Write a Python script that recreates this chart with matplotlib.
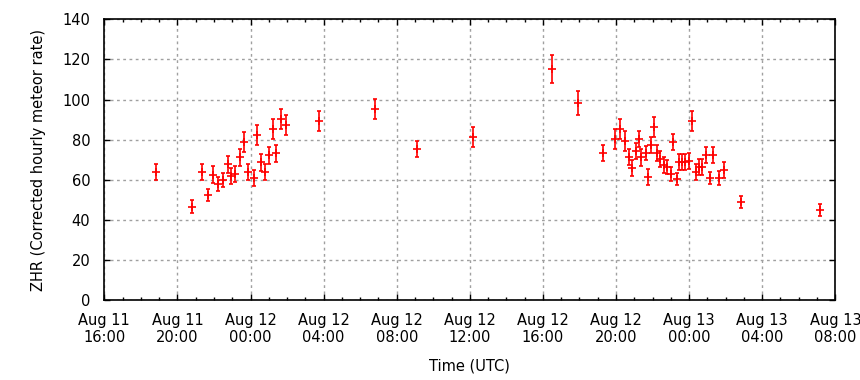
import numpy as np
import pandas as pd
import matplotlib
matplotlib.use('Agg')
import matplotlib.pyplot as plt
import matplotlib.dates as mdates

# ZHR measurements (UTC time, ZHR, error)
times = [
    '2016-08-11 18:50', '2016-08-11 20:49', '2016-08-11 21:21', '2016-08-11 21:41',
    '2016-08-11 21:58', '2016-08-11 22:14', '2016-08-11 22:31', '2016-08-11 22:47',
    '2016-08-11 22:57', '2016-08-11 23:09', '2016-08-11 23:26', '2016-08-11 23:40',
    '2016-08-11 23:53', '2016-08-12 00:10', '2016-08-12 00:22', '2016-08-12 00:35',
    '2016-08-12 00:49', '2016-08-12 01:02', '2016-08-12 01:15', '2016-08-12 01:25',
    '2016-08-12 01:41', '2016-08-12 01:58', '2016-08-12 03:44', '2016-08-12 06:50',
    '2016-08-12 09:05', '2016-08-12 12:12', '2016-08-12 16:31', '2016-08-12 17:56',
    '2016-08-12 19:16', '2016-08-12 19:58', '2016-08-12 20:14', '2016-08-12 20:28',
    '2016-08-12 20:41', '2016-08-12 20:54', '2016-08-12 21:04', '2016-08-12 21:14',
    '2016-08-12 21:23', '2016-08-12 21:37', '2016-08-12 21:46', '2016-08-12 21:56',
    '2016-08-12 22:06', '2016-08-12 22:16', '2016-08-12 22:26', '2016-08-12 22:36',
    '2016-08-12 22:46', '2016-08-12 22:59', '2016-08-12 23:08', '2016-08-12 23:19',
    '2016-08-12 23:28', '2016-08-12 23:38', '2016-08-12 23:48', '2016-08-12 23:58',
    '2016-08-13 00:11', '2016-08-13 00:21', '2016-08-13 00:31', '2016-08-13 00:41',
    '2016-08-13 00:54', '2016-08-13 01:07', '2016-08-13 01:20', '2016-08-13 01:37',
    '2016-08-13 01:53', '2016-08-13 02:49', '2016-08-13 07:10',
]
zhr = [
    63.7, 46.5, 63.7, 52.5, 62.5, 57.7, 59.7, 67.7, 61.7, 62.7, 71.2, 79.0,
    63.7, 60.7, 82.1, 68.7, 63.7, 72.2, 85.1, 73.2, 90.1, 87.1, 89.1, 95.1,
    75.2, 81.1, 115.1, 98.1,
    73.2, 80.1, 85.1, 79.1, 71.2, 65.7, 74.2, 80.1, 71.2, 73.2, 61.2, 77.2,
    86.1, 73.2, 70.2, 67.2, 66.2, 62.7, 78.6, 60.2, 68.7, 68.7, 68.7, 69.2,
    89.1, 63.7, 66.2, 66.2, 72.2, 60.7, 72.2, 60.7, 64.7, 48.9, 44.7,
]
err = [
    4.0, 3.2, 4.0, 3.1, 4.1, 3.5, 3.5, 4.2, 4.0, 4.0, 4.2, 5.0,
    4.0, 4.0, 5.0, 4.2, 4.0, 4.2, 5.0, 4.2, 5.0, 5.0, 5.0, 5.0,
    4.0, 5.0, 7.0, 6.0,
    4.0, 5.0, 5.0, 5.0, 4.0, 4.0, 4.0, 4.0, 4.2, 3.5, 4.0, 4.0,
    5.0, 4.0, 4.0, 4.0, 3.5, 3.5, 4.0, 3.0, 4.0, 4.0, 4.0, 4.0,
    5.0, 4.0, 4.0, 4.0, 4.0, 3.0, 4.0, 3.5, 4.0, 3.0, 3.0,
]

t = pd.to_datetime(times)

plt.rcParams['font.family'] = 'DejaVu Sans'
plt.rcParams['font.size'] = 10.5

fig = plt.figure(figsize=(8.6, 3.8), dpi=100)
ax = fig.add_axes([0.1213, 0.2105, 0.85, 0.7387])

ax.errorbar(t, zhr, yerr=err, fmt='+', color='#ff0000', ecolor='#ff0000',
            markersize=5.5, markeredgewidth=1.2, elinewidth=1.2,
            capsize=1.5, capthick=1.2, zorder=3)

ax.set_xlim(pd.Timestamp('2016-08-11 16:00'), pd.Timestamp('2016-08-13 08:00'))
ax.set_ylim(0, 140)
ax.set_yticks(np.arange(0, 141, 20))

ax.xaxis.set_major_locator(mdates.HourLocator(byhour=[0, 4, 8, 12, 16, 20]))
ax.xaxis.set_minor_locator(mdates.HourLocator())
ax.xaxis.set_major_formatter(mdates.DateFormatter('%b %d\n%H:%M'))

ax.tick_params(which='both', direction='in', top=True, right=True, colors='black')
ax.tick_params(which='major', length=4, width=1)
ax.tick_params(which='minor', length=2.5, width=1)
ax.tick_params(axis='y', which='major', pad=10)
ax.tick_params(axis='x', which='major', pad=9)
for lab in ax.get_xticklabels():
    lab.set_ha('center')

ax.grid(True, which='major', color='#a0a0a0', linestyle=(0, (2, 2.5)), linewidth=1)
for s in ax.spines.values():
    s.set_linewidth(1.2)

ax.set_ylabel('ZHR (Corrected hourly meteor rate)', labelpad=12)
ax.set_xlabel('Time (UTC)', labelpad=10)

fig.savefig('out.png', dpi=100)
